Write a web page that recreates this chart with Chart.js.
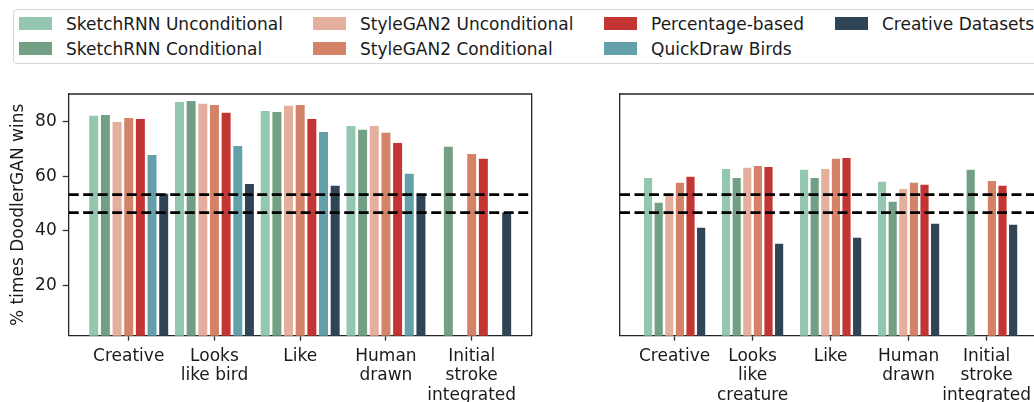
<!DOCTYPE html>
<html>
<head>
<meta charset="utf-8">
<script src="https://cdn.jsdelivr.net/npm/chart.js@4.4.1/dist/chart.umd.min.js"></script>
<style>
  html, body { margin:0; padding:0; background:#fff; overflow:hidden; width:1034px; height:402px; position:relative; font-family:'DejaVu Sans', sans-serif; color:#1a1a1a; }
  #cL { position:absolute; left:0; top:0; }
  #cR { position:absolute; left:560px; top:0; }
  .legend-box { position:absolute; left:13px; top:9px; width:1060px; height:55px; border:1.5px solid #d6d6d6; border-radius:4px; box-sizing:border-box; background:#fff; }
  .legend { position:absolute; left:19px; top:11px; display:grid; grid-template-columns:294px 291px 231px 220px; grid-template-rows:25px 25px; grid-auto-flow:column; }
  .legend .item { display:flex; align-items:center; font-size:17px; white-space:nowrap; }
  .legend .sw { width:33px; height:13px; margin-right:14px; flex:none; }
</style>
</head>
<body>
<canvas id="cL" width="560" height="402"></canvas>
<canvas id="cR" width="490" height="402"></canvas>
<div class="legend-box"></div>
<div class="legend" id="legend"></div>
<script>
// axis ranges and reference lines
const xMin = -0.7, xMax = 4.7;
const yMin = 1.7, yMax = 90.1;
const yTicks = [20, 40, 60, 80];
const chanceLines = [53.3, 46.7];

const birdLabels = ['Creative', ['Looks', 'like bird'], 'Like', ['Human', 'drawn'], ['Initial', 'stroke', 'integrated']];
const creatureLabels = ['Creative', ['Looks', 'like', 'creature'], 'Like', ['Human', 'drawn'], ['Initial', 'stroke', 'integrated']];

const seriesNames = ['SketchRNN Unconditional', 'SketchRNN Conditional', 'StyleGAN2 Unconditional', 'StyleGAN2 Conditional', 'Percentage-based', 'QuickDraw Birds', 'Creative Datasets'];
const seriesColors = ['#94c7b0', '#73a084', '#e5af9d', '#d48268', '#c33533', '#63a0aa', '#2f4555'];

// left panel: birds
const birdSketchUncond = [82.1, 87.2, 83.9, 78.4, null];
const birdSketchCond   = [82.4, 87.5, 83.5, 77.0, 70.8];
const birdStyleUncond  = [79.9, 86.5, 85.8, 78.4, null];
const birdStyleCond    = [81.3, 86.1, 86.1, 75.9, 68.2];
const birdPercentage   = [81.0, 83.2, 81.0, 72.2, 66.4];
const birdQuickDraw    = [67.8, 71.1, 76.2, 60.9, null];
const birdCreative     = [53.6, 57.2, 56.5, 53.6, 46.8];

// right panel: creatures (no QuickDraw Birds)
const creatureSketchUncond = [59.4, 62.7, 62.4, 58.0, null];
const creatureSketchCond   = [50.3, 59.4, 59.4, 50.7, 62.4];
const creatureStyleUncond  = [53.6, 63.1, 62.7, 55.4, null];
const creatureStyleCond    = [57.6, 63.8, 66.4, 57.6, 58.3];
const creaturePercentage   = [59.8, 63.4, 66.7, 56.9, 56.5];
const creatureCreative     = [41.2, 35.3, 37.5, 42.6, 42.3];

Chart.defaults.font.family = "'DejaVu Sans', sans-serif";
Chart.defaults.font.size = 17;
Chart.defaults.color = '#1a1a1a';

// legend, column-major like the original
const legendEl = document.getElementById('legend');
seriesNames.forEach((name, i) => {
  const it = document.createElement('div');
  it.className = 'item';
  it.innerHTML = `<span class="sw" style="background:${seriesColors[i]}"></span><span>${name}</span>`;
  legendEl.appendChild(it);
});

const frame = {
  id: 'frame',
  afterDraw(c) {
    const { ctx, chartArea: a } = c;
    ctx.save();
    ctx.strokeStyle = '#262626';
    ctx.lineWidth = 1.3;
    ctx.beginPath();
    ctx.moveTo(a.left, a.top); ctx.lineTo(a.right, a.top); ctx.lineTo(a.right, a.bottom);
    ctx.stroke();
    ctx.restore();
  }
};

function buildPanel(id, labels, series, seriesIdx, opts) {
  const bars = series.map((vals, k) => ({
    type: 'bar', label: seriesNames[seriesIdx[k]],
    data: vals.map((v, i) => ({ x: i, y: v })),
    backgroundColor: seriesColors[seriesIdx[k]], borderWidth: 0,
    categoryPercentage: opts.catPct, barPercentage: 0.77, order: 1
  }));
  const lines = chanceLines.map(v => ({
    type: 'line', data: [{ x: xMin, y: v }, { x: xMax, y: v }],
    borderColor: '#000', borderWidth: 2.8, borderDash: [10, 4.5], pointRadius: 0, order: 0
  }));
  return new Chart(document.getElementById(id), {
    type: 'bar',
    data: { datasets: [...bars, ...lines] },
    options: {
      responsive: false, animation: false,
      layout: { padding: { top: 94, right: opts.padRight, left: 0, bottom: 0 } },
      plugins: { legend: { display: false }, tooltip: { enabled: false } },
      scales: {
        x: {
          type: 'linear', min: xMin, max: xMax, offset: false,
          afterBuildTicks: s => { s.ticks = labels.map((_, i) => ({ value: i })); },
          afterFit: s => { s.height = 66.3; },
          ticks: { callback: v => labels[v], maxRotation: 0, autoSkip: false, padding: 6, font: { size: 17, lineHeight: 1.15 } },
          grid: { drawOnChartArea: false, offset: false, tickLength: 5, tickColor: '#333', tickWidth: 1.3 },
          border: { color: '#262626', width: 1.3 }
        },
        y: {
          min: yMin, max: yMax, beginAtZero: false,
          afterBuildTicks: s => { s.ticks = yTicks.map(v => ({ value: v })); },
          afterFit: s => { s.width = opts.yWidth; },
          ticks: { display: opts.showY, padding: 6, font: { size: 17 } },
          grid: { drawOnChartArea: false, drawTicks: opts.showY, tickLength: 6, tickColor: '#333', tickWidth: 1.3 },
          border: { color: '#262626', width: 1.3 },
          title: { display: opts.showY, text: '% times DoodlerGAN wins', padding: { top: 8, bottom: 0 }, font: { size: 17 } }
        }
      }
    },
    plugins: [frame]
  });
}

buildPanel('cL', birdLabels,
  [birdSketchUncond, birdSketchCond, birdStyleUncond, birdStyleCond, birdPercentage, birdQuickDraw, birdCreative],
  [0, 1, 2, 3, 4, 5, 6], { catPct: 0.952, padRight: 28.3, yWidth: 68.7, showY: true });

buildPanel('cR', creatureLabels,
  [creatureSketchUncond, creatureSketchCond, creatureStyleUncond, creatureStyleCond, creaturePercentage, creatureCreative],
  [0, 1, 2, 3, 4, 6], { catPct: 0.816, padRight: 8.8, yWidth: 60, showY: false });
</script>
</body>
</html>
